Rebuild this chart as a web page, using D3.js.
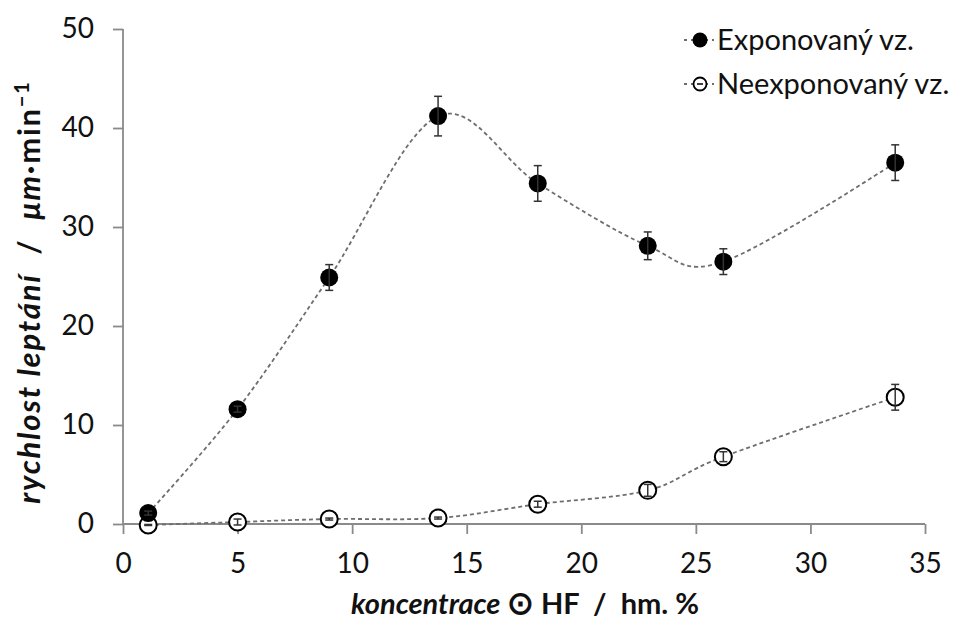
<!DOCTYPE html>
<html>
<head>
<meta charset="utf-8">
<script src="https://cdn.jsdelivr.net/npm/d3@7"></script>
<style>
  html, body { margin: 0; padding: 0; background: #fff; }
  svg { display: block; font-family: Lato, "Open Sans", sans-serif; }
</style>
</head>
<body>
<svg id="chart" width="954" height="621"></svg>
<script>
// HF concentration (wt. %) and etch rates (µm/min)
const concentration = [1.1, 5.0, 9.0, 13.75, 18.1, 22.9, 26.2, 33.7];
const exposedRate = [1.1, 11.6, 24.9, 41.2, 34.4, 28.1, 26.5, 36.5];
const exposedErr = [0.2, 0.3, 1.3, 2.0, 1.8, 1.4, 1.3, 1.8];
const unexposedRate = [-0.1, 0.2, 0.5, 0.6, 2.0, 3.4, 6.8, 12.8];
const unexposedErr = [0.05, 0.3, 0.1, 0.1, 0.3, 0.6, 0.5, 1.3];
const xTicks = [0, 5, 10, 15, 20, 25, 30, 35];
const yTicks = [0, 10, 20, 30, 40, 50];
const seriesNames = ["Exponovaný vz.", "Neexponovaný vz."];

const svg = d3.select("#chart");
const margin = { left: 123, right: 29, top: 29, bottom: 97 };
const W = 954, H = 621;

const x = d3.scaleLinear().domain([0, 35]).range([margin.left, W - margin.right]);
const y = d3.scaleLinear().domain([0, 50]).range([H - margin.bottom, margin.top]);

const axisColor = "#8a8a8a";

// Axes
const xAxis = svg.append("g")
  .attr("transform", `translate(0,${y(0)})`)
  .call(d3.axisBottom(x).tickValues(xTicks).tickSize(10).tickPadding(19));
const yAxis = svg.append("g")
  .attr("transform", `translate(${x(0)},0)`)
  .call(d3.axisLeft(y).tickValues(yTicks).tickSize(10).tickPadding(19));
[xAxis, yAxis].forEach(g => {
  g.selectAll("path").attr("stroke", axisColor).attr("stroke-width", 1.8);
  g.selectAll("line").attr("stroke", axisColor).attr("stroke-width", 1.8);
  g.selectAll("text").attr("fill", "#111").style("font-size", "28px")
    .style("font-family", "Lato, 'Open Sans', sans-serif");
});
xAxis.select(".domain").attr("d", `M${x(0)},0H${x(35)}`);
yAxis.select(".domain").attr("d", `M0,${y(0)}V${y(50)}`);

// Axis titles
const xt = svg.append("text")
  .attr("x", 525).attr("y", 614)
  .attr("text-anchor", "middle")
  .style("font-size", "29px").style("font-weight", "bold").attr("fill", "#111")
  .style("white-space", "pre");
xt.append("tspan").style("font-style", "italic").text("koncentrace ");
xt.append("tspan").style("font-size", "32px").text("⊙");
xt.append("tspan").text(" HF  /  hm. %");

const yt = svg.append("text")
  .attr("transform", `translate(40,292) rotate(-90)`)
  .attr("text-anchor", "middle")
  .style("font-size", "31px").style("font-weight", "bold").attr("fill", "#111")
  .style("letter-spacing", "1.8px")
  .style("white-space", "pre");
yt.append("tspan").style("font-style", "italic").text("rychlost leptání");
yt.append("tspan").text("  /  ");
yt.append("tspan").style("font-style", "italic").text("μm");
yt.append("tspan").text("·min");
yt.append("tspan").attr("dy", -11).style("font-size", "20px").text("−1");

// Smoothed dashed curves
const line = d3.line().curve(d3.curveCardinal.tension(0))
  .x(d => x(d[0])).y(d => y(d[1]));

function series(values, errs, filled) {
  const pts = concentration.map((c, i) => [c, values[i], errs[i]]);
  svg.append("path")
    .attr("d", line(pts))
    .attr("fill", "none")
    .attr("stroke", "#6e6e6e")
    .attr("stroke-width", 1.8)
    .attr("stroke-dasharray", "4,3");

  const g = svg.append("g");
  pts.forEach(p => {
    g.append("circle")
      .attr("cx", x(p[0])).attr("cy", y(p[1]))
      .attr("r", filled ? 9 : 8.5)
      .attr("fill", filled ? "#000" : "#fff")
      .attr("stroke", "#000")
      .attr("stroke-width", filled ? 0 : 2);
    const top = y(p[1] + p[2]), bot = y(p[1] - p[2]);
    const eb = svg.append("g").attr("stroke", "#333").attr("stroke-width", 1.5);
    eb.append("line").attr("x1", x(p[0])).attr("x2", x(p[0])).attr("y1", top).attr("y2", bot);
    eb.append("line").attr("x1", x(p[0]) - 4).attr("x2", x(p[0]) + 4).attr("y1", top).attr("y2", top);
    eb.append("line").attr("x1", x(p[0]) - 4).attr("x2", x(p[0]) + 4).attr("y1", bot).attr("y2", bot);
  });
}
series(unexposedRate, unexposedErr, false);
series(exposedRate, exposedErr, true);

// Legend
const legend = svg.append("g").attr("transform", "translate(684,0)");
seriesNames.forEach((name, i) => {
  const cy = 40 + i * 44;
  legend.append("line").attr("x1", 0).attr("x2", 30).attr("y1", cy).attr("y2", cy)
    .attr("stroke", "#6e6e6e").attr("stroke-width", 1.8).attr("stroke-dasharray", "3,4");
  legend.append("circle").attr("cx", 16).attr("cy", cy)
    .attr("r", i === 0 ? 7.5 : 6.5)
    .attr("fill", i === 0 ? "#000" : "#fff")
    .attr("stroke", "#000").attr("stroke-width", i === 0 ? 0 : 1.8);
  if (i === 1) {
    legend.append("line").attr("x1", 13).attr("x2", 19).attr("y1", cy).attr("y2", cy)
      .attr("stroke", "#000").attr("stroke-width", 1.5);
  }
  legend.append("text").attr("x", 33).attr("y", cy + 10)
    .style("font-size", "29px").attr("fill", "#111").text(name);
});
</script>
</body>
</html>
